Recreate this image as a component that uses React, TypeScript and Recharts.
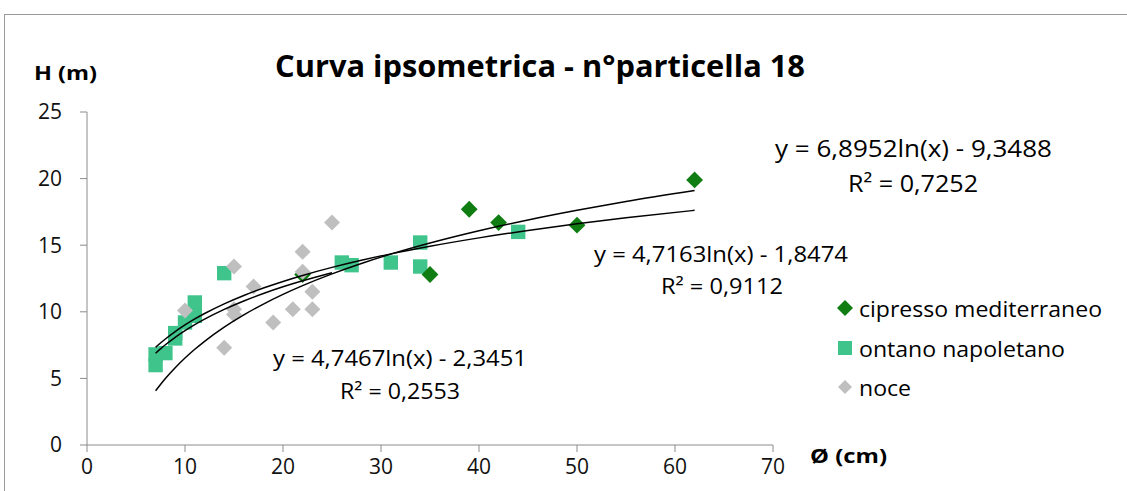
import React from "react";
import { ScatterChart, Scatter, XAxis, YAxis } from "recharts";

// diametro (cm) e altezza (m) per specie
const cipressoX = [22, 35, 39, 42, 50, 62];
const cipressoH = [12.8, 12.8, 17.7, 16.7, 16.5, 19.9];
const ontanoX = [7, 7, 8, 9, 9, 10, 11, 11, 14, 26, 27, 31, 34, 34, 44];
const ontanoH = [6.0, 6.8, 6.9, 8.0, 8.4, 9.2, 9.7, 10.7, 12.9, 13.7, 13.5, 13.7, 15.2, 13.4, 16.0];
const noceX = [10, 14, 15, 15, 15, 17, 19, 21, 22, 22, 23, 23, 25];
const noceH = [10.1, 7.3, 13.4, 10.2, 9.8, 11.9, 9.2, 10.2, 14.5, 13.0, 11.5, 10.2, 16.7];

const xTicks = [0, 10, 20, 30, 40, 50, 60, 70];
const yTicks = [0, 5, 10, 15, 20, 25];

// linee di tendenza logaritmiche (coefficienti dalle etichette)
const trendA = [6.8952, 4.7163, 4.7467];
const trendB = [-9.3488, -1.8474, -2.3451];
const trendEnd = [62, 62, 25];
const sampleX = [7, 7.5, 8, 9, 10, 11, 12, 14, 16, 18, 20, 22, 25, 28, 31, 35, 40, 45, 50, 55, 62];

const toPoints = (xs: number[], ys: number[]) => xs.map((x, i) => ({ x, y: ys[i] }));

const trends = trendA.map((a, i) =>
  sampleX.filter((x) => x <= trendEnd[i]).map((x) => ({ x, y: a * Math.log(x) + trendB[i] }))
);

const diamond = (color: string, r: number) => (p: any) => (
  <polygon
    points={`${p.cx},${p.cy - r} ${p.cx + r},${p.cy} ${p.cx},${p.cy + r} ${p.cx - r},${p.cy}`}
    fill={color}
  />
);
const square = (color: string, h: number) => (p: any) => (
  <rect x={p.cx - h} y={p.cy - h} width={h * 2} height={h * 2} fill={color} />
);

const green = "#0F7D12";
const teal = "#3FC48C";
const grey = "#BFBFBF";
const font = "'Open Sans', sans-serif";

export default function App() {
  const axisColor = "#8C8C8C";
  return (
    <div style={{ position: "absolute", left: 0, top: 0, width: 1127, height: 491, background: "#fff", overflow: "hidden" }}>
      <div style={{ position: "absolute", left: 4, top: 14, width: 1200, height: 600, borderTop: "1px solid #9a9a9a", borderLeft: "1px solid #9a9a9a" }} />
      <ScatterChart width={1127} height={491} margin={{ top: 112, right: 354, bottom: 16, left: 27 }}>
        <XAxis
          type="number"
          dataKey="x"
          domain={[0, 70]}
          ticks={xTicks}
          height={30}
          tickSize={7}
          tickMargin={7}
          axisLine={{ stroke: axisColor }}
          tickLine={{ stroke: axisColor }}
          tick={{ fill: "#111", fontSize: 21, fontFamily: font }}
        />
        <YAxis
          type="number"
          dataKey="y"
          domain={[0, 25]}
          ticks={yTicks}
          width={60}
          tickSize={7}
          tickMargin={18}
          axisLine={{ stroke: axisColor }}
          tickLine={{ stroke: axisColor }}
          tick={{ fill: "#111", fontSize: 21, fontFamily: font }}
        />
        <Scatter name="ontano napoletano" data={toPoints(ontanoX, ontanoH)} shape={square(teal, 7.2)} isAnimationActive={false} />
        <Scatter name="cipresso mediterraneo" data={toPoints(cipressoX, cipressoH)} shape={diamond(green, 8.4)} isAnimationActive={false} />
        <Scatter name="noce" data={toPoints(noceX, noceH)} shape={diamond(grey, 8)} isAnimationActive={false} />
        {trends.map((d, i) => (
          <Scatter
            key={i}
            data={d}
            line={{ stroke: "#000", strokeWidth: 1.5 }}
            lineJointType="monotoneX"
            shape={() => <g />}
            legendType="none"
            isAnimationActive={false}
          />
        ))}
      </ScatterChart>
      <svg width={1127} height={491} style={{ position: "absolute", left: 0, top: 0, pointerEvents: "none" }} fontFamily={font}>
        <text x={275} y={65} fontSize={30} fontWeight={700} textLength={530} lengthAdjust="spacingAndGlyphs" dominantBaseline="central">
          Curva ipsometrica - n°particella 18
        </text>
        <text x={34} y={72} fontSize={20} fontWeight={700} textLength={63} lengthAdjust="spacingAndGlyphs" dominantBaseline="central">
          H (m)
        </text>
        <text x={810} y={455} fontSize={20} fontWeight={700} textLength={77} lengthAdjust="spacingAndGlyphs" dominantBaseline="central">
          Ø (cm)
        </text>

        <text x={775} y={148} fontSize={23} textLength={277} lengthAdjust="spacingAndGlyphs" dominantBaseline="central">
          y = 6,8952ln(x) - 9,3488
        </text>
        <text x={848} y={183} fontSize={23} textLength={130} lengthAdjust="spacingAndGlyphs" dominantBaseline="central">
          R² = 0,7252
        </text>
        <text x={594} y={253} fontSize={21.5} textLength={254} lengthAdjust="spacingAndGlyphs" dominantBaseline="central">
          y = 4,7163ln(x) - 1,8474
        </text>
        <text x={661} y={285} fontSize={21.5} textLength={122} lengthAdjust="spacingAndGlyphs" dominantBaseline="central">
          R² = 0,9112
        </text>
        <text x={273} y={357} fontSize={21.5} textLength={254} lengthAdjust="spacingAndGlyphs" dominantBaseline="central">
          y = 4,7467ln(x) - 2,3451
        </text>
        <text x={340} y={390} fontSize={21.5} textLength={120} lengthAdjust="spacingAndGlyphs" dominantBaseline="central">
          R² = 0,2553
        </text>

        <polygon points="845,300 853,308 845,316 837,308" fill={green} />
        <text x={859} y={308} fontSize={21.5} textLength={243} lengthAdjust="spacingAndGlyphs" dominantBaseline="central">
          cipresso mediterraneo
        </text>
        <rect x={838} y={341} width={14} height={14} fill={teal} />
        <text x={859} y={348} fontSize={21.5} textLength={206} lengthAdjust="spacingAndGlyphs" dominantBaseline="central">
          ontano napoletano
        </text>
        <polygon points="845,380 852,387 845,394 838,387" fill={grey} />
        <text x={859} y={387} fontSize={21.5} textLength={52} lengthAdjust="spacingAndGlyphs" dominantBaseline="central">
          noce
        </text>
      </svg>
    </div>
  );
}
